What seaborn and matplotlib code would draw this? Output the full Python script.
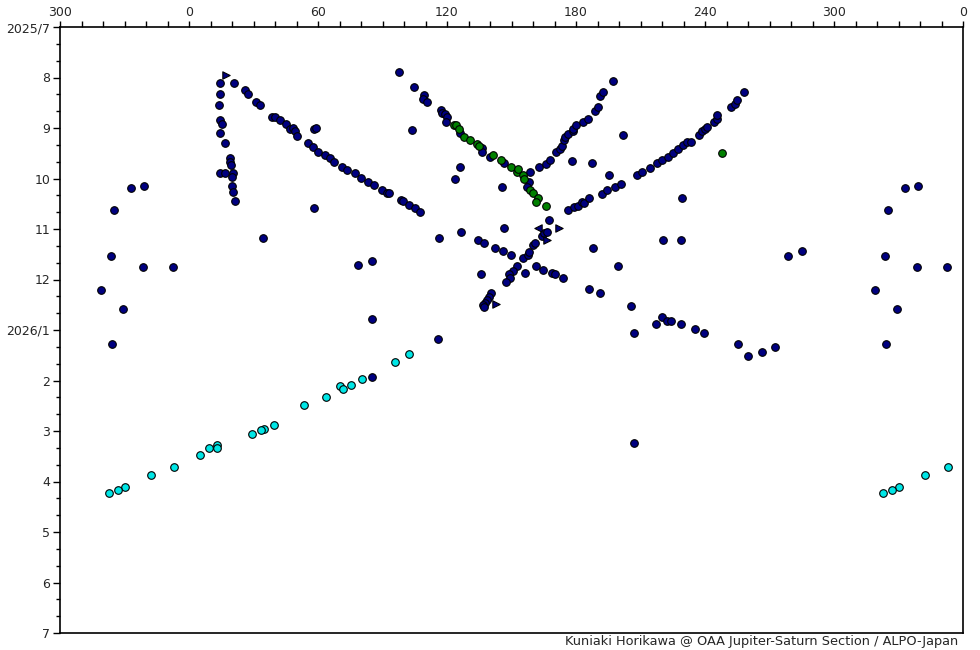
import matplotlib.pyplot as plt
import matplotlib.ticker as mticker
import pandas as pd
import seaborn as sns

# System II longitude (deg) and time in months since 2025/7/1
navy_lon = [
    14.6, 20.9, 14.6, 26.2, 27.6, 31.3, 33.2, 14.1, 14.6, 15.5, 14.6, 16.9, 19.2, 19.2, 19.7,
    14.6, 16.9, 20.6, 20.1, 20.1, 20.6, 21.3,
    38.7, 40.0, 42.3, 45.3, 47.1, 48.4, 49.3, 50.4, 58.3, 59.2, 55.3, 57.8, 60.0, 63.4, 65.7,
    67.6, 71.3, 73.5, 77.2, 80.1, 83.4, 86.0, 89.8, 92.1, 93.0, 98.6, 99.7, 102.3, 105.1,
    107.4, 58.1,
    333.2, 339.2, 325.3, 323.9, 338.7, 352.7, 319.2, 329.4, 324.3,
    97.8, 104.8, 109.4, 109.0, 110.6, 103.7, 117.3, 117.7, 119.2, 119.9, 119.4, 126.0, 136.4,
    136.4, 140.0, 146.7, 158.7, 158.1, 157.1, 126.2, 123.9, 145.7, 167.6,
    162.9, 166.0, 168.0, 170.8, 172.7, 173.6, 174.6, 174.7, 176.4, 178.5, 178.7, 180.1, 183.4,
    185.7, 188.8, 190.1, 191.2, 192.7, 197.3, 202.0, 178.3, 187.6, 195.5,
    176.4, 179.2, 181.1, 182.9, 183.7, 186.2, 192.2, 194.3, 198.3, 201.1, 208.5, 210.8, 214.6,
    217.8, 220.1, 222.9, 225.3, 227.6, 229.9, 231.5, 233.3, 237.1, 238.5, 239.9, 240.8, 244.2,
    245.7, 245.7, 252.2, 254.1, 255.0, 258.3, 229.4,
    116.4, 126.4, 134.6, 137.3, 142.5, 146.2, 149.9, 136.0, 146.7, 156.4, 161.4, 164.8, 168.8,
    170.4, 174.1, 186.2, 191.3, 188.0, 199.7, 152.7, 150.6, 149.0, 149.3, 147.4, 155.5, 157.8,
    158.3, 159.9, 160.9, 164.3, 165.1, 166.4, 140.5, 139.5, 138.5, 137.7, 136.9, 137.3,
    34.4, 78.6, 85.1, 85.1, 115.8,
    220.6, 229.0, 278.7, 285.3, 205.6, 207.1, 217.3, 220.1, 222.5, 224.3, 228.7, 235.5, 239.7,
    255.5, 260.1, 266.7, 272.7, 85.3, 207.1,
]
navy_t = [
    1.10, 1.10, 1.33, 1.25, 1.33, 1.49, 1.55, 1.55, 1.84, 1.92, 2.09, 2.30, 2.60, 2.67, 2.74,
    2.90, 2.90, 2.90, 2.98, 3.14, 3.27, 3.44,
    1.78, 1.79, 1.84, 1.92, 2.02, 2.00, 2.06, 2.15, 2.02, 2.00, 2.30, 2.38, 2.48, 2.54, 2.60,
    2.67, 2.77, 2.83, 2.90, 2.99, 3.07, 3.13, 3.23, 3.29, 3.29, 3.43, 3.45, 3.53, 3.58,
    3.67, 3.59,
    3.19, 3.14, 3.63, 4.54, 4.76, 4.76, 5.21, 5.59, 6.28,
    0.90, 1.19, 1.35, 1.43, 1.49, 2.03, 1.64, 1.71, 1.72, 1.78, 1.89, 2.09, 2.40,
    2.48, 2.58, 2.70, 2.88, 3.07, 3.17, 2.77, 3.00, 3.17, 3.83,
    2.78, 2.71, 2.63, 2.48, 2.42, 2.35, 2.24, 2.18, 2.12, 2.06, 2.02, 1.94, 1.89,
    1.83, 1.66, 1.58, 1.36, 1.29, 1.06, 2.13, 2.65, 2.70, 2.94,
    3.63, 3.56, 3.54, 3.47, 3.48, 3.39, 3.30, 3.23, 3.17, 3.10, 2.94, 2.88, 2.80,
    2.70, 2.63, 2.58, 2.50, 2.42, 2.34, 2.28, 2.28, 2.13, 2.06, 2.01, 1.98, 1.89,
    1.83, 1.74, 1.59, 1.53, 1.45, 1.29, 3.39,
    4.18, 4.05, 4.22, 4.28, 4.38, 4.44, 4.52, 4.89, 3.99, 4.88, 4.74, 4.82, 4.87,
    4.90, 4.98, 5.19, 5.27, 4.38, 4.74, 4.74, 4.83, 4.89, 4.98, 5.04, 4.58, 4.52,
    4.45, 4.31, 4.28, 4.13, 4.07, 4.05, 5.27, 5.35, 5.41, 5.47, 5.51, 5.54,
    4.18, 4.71, 4.63, 5.78, 6.18,
    4.22, 4.22, 4.54, 4.44, 5.53, 6.05, 5.89, 5.75, 5.82, 5.82, 5.89, 5.99, 6.05,
    6.28, 6.52, 6.44, 6.34, 6.94, 8.24,
]

green_lon = [123.3, 124.2, 125.4, 128.0, 130.8, 134.1, 134.9, 141.3, 145.1, 149.9, 152.4,
             153.2, 155.3, 155.7, 158.7, 160.1, 162.3, 161.4, 166.0, 248.0]
green_t = [1.94, 1.95, 2.02, 2.18, 2.24, 2.32, 2.35, 2.54, 2.63, 2.77, 2.87,
           2.82, 2.93, 3.00, 3.23, 3.29, 3.38, 3.46, 3.55, 2.50]

cyan_lon = [102.5, 96.0, 80.6, 75.5, 70.4, 71.8, 63.9, 53.6, 39.7, 35.0, 33.6, 29.4, 13.2,
            13.2, 9.4, 5.3, 353.2, 342.5, 330.4, 327.1, 322.9]
cyan_t = [6.48, 6.64, 6.98, 7.08, 7.10, 7.17, 7.33, 7.49, 7.89, 7.97, 7.99, 8.05, 8.27,
          8.34, 8.34, 8.48, 8.72, 8.88, 9.10, 9.17, 9.23]

tri_right_lon = [17.1, 172.2, 166.4, 142.8]
tri_right_t = [0.95, 3.99, 4.22, 5.49]
tri_left_lon = [162.2]
tri_left_t = [3.99]

month_labels = ["2025/7", "8", "9", "10", "11", "12", "2026/1", "2", "3", "4", "5", "6", "7"]
credit = "Kuniaki Horikawa @ OAA Jupiter-Saturn Section / ALPO-Japan"


def wrap(lon, t):
    # longitudes 300-360 are shown twice: at the right edge and left of 0
    df = pd.DataFrame({"lon": lon, "t": t})
    extra = df[df["lon"] >= 300].assign(lon=lambda d: d["lon"] - 360)
    return pd.concat([df, extra], ignore_index=True)


sns.set_style("white")
plt.rcParams["font.family"] = ["DejaVu Sans"]

fig = plt.figure(figsize=(9.8, 6.5), dpi=100)
ax = fig.add_axes([60 / 980, 17 / 650, 903 / 980, 606 / 650])

common = dict(x="lon", y="t", ax=ax, legend=False, edgecolor="black", linewidth=0.8)
sns.scatterplot(data=wrap(navy_lon, navy_t), color="#000080", s=30, marker="o", zorder=3, **common)
sns.scatterplot(data=wrap(green_lon, green_t), color="#008000", s=30, marker="o", zorder=4, **common)
sns.scatterplot(data=wrap(cyan_lon, cyan_t), color="#00e6e6", s=30, marker="o", zorder=3, **common)
sns.scatterplot(data=wrap(tri_right_lon, tri_right_t), color="#000080", s=28, marker=">", zorder=3, **common)
sns.scatterplot(data=wrap(tri_left_lon, tri_left_t), color="#000080", s=28, marker="<", zorder=3, **common)

ax.set_xlim(-60, 360)
ax.set_ylim(12, 0)
ax.set_xlabel("")
ax.set_ylabel("")

ax.xaxis.tick_top()
xt = list(range(-60, 361, 60))
ax.set_xticks(xt)
ax.set_xticklabels([str(v % 360) for v in xt])
ax.xaxis.set_minor_locator(mticker.MultipleLocator(10))
ax.set_yticks(range(13))
ax.set_yticklabels(month_labels)
ax.yaxis.set_minor_locator(mticker.MultipleLocator(1 / 3))

ax.tick_params(axis="x", which="both", top=True, bottom=False, length=4, width=1,
               color="black", labelsize=9, pad=2)
ax.tick_params(axis="y", which="major", left=True, length=5, width=1, color="black",
               labelsize=9, pad=2)
ax.tick_params(axis="y", which="minor", left=True, length=3, width=1, color="black")
for sp in ax.spines.values():
    sp.set_color("black")
    sp.set_linewidth(1.2)

fig.text(958 / 980, 1 - 642 / 650, credit, ha="right", va="center", fontsize=9.3)

fig.savefig("out.png", dpi=100)
plt.close(fig)
